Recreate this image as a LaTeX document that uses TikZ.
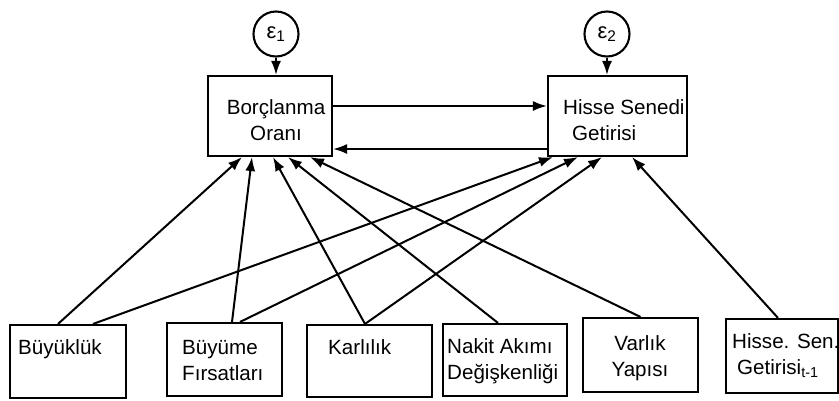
\documentclass[tikz,border=0pt]{standalone}
\usepackage{fontspec}
\setmainfont{Liberation Sans}
\usetikzlibrary{arrows.meta}

\tikzset{
    box/.style={draw, rectangle, line width=2.1pt, inner sep=0pt},
    err/.style={draw, circle, line width=2.1pt, minimum size=45pt, inner sep=0pt,
        font=\fontsize{22}{24}\selectfont},
    txt/.style={inner sep=0pt, font=\fontsize{20.6}{26}\selectfont},
    arr/.style={line width=2pt, -{Latex[length=14pt,width=10pt]}}
}

\begin{document}
\begin{tikzpicture}[x=1pt, y=1pt, yscale=-1]

\useasboundingbox (0,0) rectangle (839,400);

% Top boxes and error terms
\node[box, minimum width=124pt, minimum height=80pt] (borc) at (270,116) {};
\node[box, minimum width=139pt, minimum height=80pt] (hisse) at (617.5,116) {};
\node[err] (e1) at (276,34) {ε\textsubscript{1}};
\node[err] (e2) at (607,34) {ε\textsubscript{2}};

% Bottom boxes
\node[box, minimum width=116pt, minimum height=73pt] (buy) at (68,361.5) {};
\node[box, minimum width=115pt, minimum height=73pt] (buyume) at (224.5,359.5) {};
\node[box, minimum width=125pt, minimum height=72pt] (karl) at (369.5,361) {};
\node[box, minimum width=124pt, minimum height=72pt] (nakit) at (505,360) {};
\node[box, minimum width=115pt, minimum height=74pt] (varlik) at (640.5,355) {};
\node[box, minimum width=112pt, minimum height=74pt] (hsen) at (782,356) {};

% Box texts (base = last line)
\node[txt, align=center, anchor=base] (borctxt) at (276,140) {Borçlanma\\Oranı};
\node[txt, align=left, anchor=base west] (hissetxt) at (563,140) {Hisse Senedi\\\hspace*{9pt}Getirisi};
\node[txt, anchor=base west] (buytxt) at (18,354) {Büyüklük};
\node[txt, align=left, anchor=base west] (buyumetxt) at (182,380) {Büyüme\\Fırsatları};
\node[txt, anchor=base west] (karltxt) at (328,354) {Karlılık};
\node[txt, align=left, anchor=base west] (nakittxt) at (447,379) {Nakit Akımı\\Değişkenliği};
\node[txt, align=center, anchor=base] (varliktxt) at (640,376) {Varlık\\Yapısı};
\node[txt, align=left, anchor=base west] (hsentxt) at (732,374) {Hisse. Sen.\\\hspace*{5pt}Getirisi\textsubscript{t-1}};

% Errors into the top boxes
\draw[arr] (e1.south) -- (e1.south |- borc.north);
\draw[arr] (e2.south) -- (e2.south |- hisse.north);

% Arrows between the top boxes
\draw[arr] ([yshift=-10pt]borc.east) -- ([yshift=-10pt]borc.east -| hisse.west);
\draw[arr] ([yshift=33pt]hisse.west) -- ([yshift=33pt]hisse.west -| borc.east);

% Arrows from the bottom boxes
\foreach \src/\sx/\dst/\dx in {buy/-10/borc/-28, buyume/7.5/borc/-18, karl/-4.5/borc/3,
    nakit/-7/borc/18, varlik/0/borc/40, buy/25/hisse/-64.5, buyume/15.5/hisse/-39.5,
    karl/-4.5/hisse/-15.5, hsen/-4/hisse/14.5} {
    \draw[arr] ([xshift=\sx pt]\src.north) -- ([xshift=\dx pt]\dst.south);
}

\end{tikzpicture}
\end{document}
